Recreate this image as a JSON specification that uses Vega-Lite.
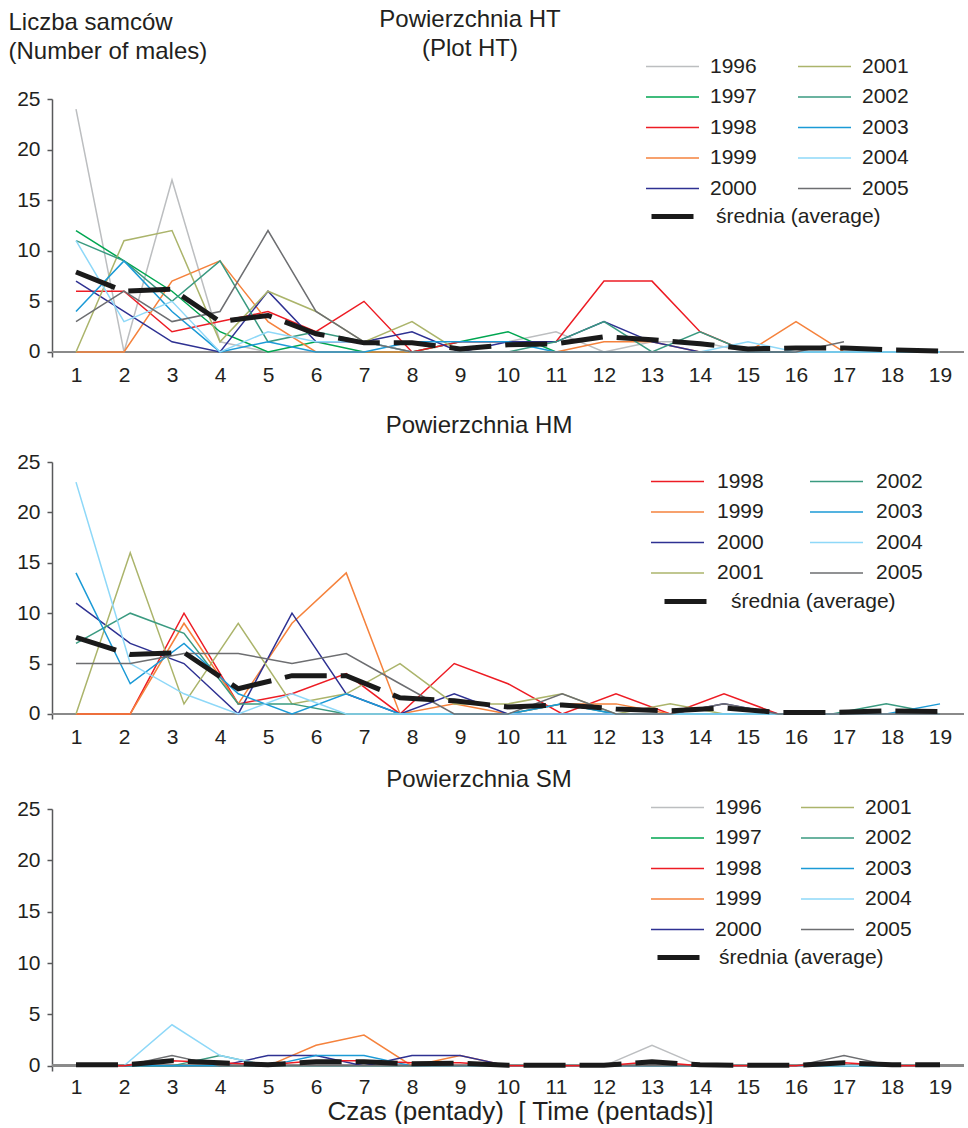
{
  "$schema": "https://vega.github.io/schema/vega-lite/v6.json",
  "padding": {"left": 8, "top": 8, "right": 0, "bottom": 0},
  "background": "white",
  "bounds": "flush",
  "spacing": 105,
  "resolve": {"scale": {"color": "independent", "strokeDash": "independent", "x": "independent", "y": "independent"}, "legend": {"color": "independent", "strokeDash": "independent"}},
  "datasets": {
    "ht": [
      {"x":1,"y":24,"s":"1996"},{"x":2,"y":0,"s":"1996"},{"x":3,"y":17,"s":"1996"},{"x":4,"y":1,"s":"1996"},{"x":5,"y":0,"s":"1996"},{"x":6,"y":0,"s":"1996"},{"x":7,"y":0,"s":"1996"},{"x":8,"y":0,"s":"1996"},{"x":9,"y":1,"s":"1996"},{"x":10,"y":1,"s":"1996"},{"x":11,"y":2,"s":"1996"},{"x":12,"y":0,"s":"1996"},{"x":13,"y":1,"s":"1996"},{"x":14,"y":1,"s":"1996"},{"x":15,"y":0,"s":"1996"},{"x":16,"y":0,"s":"1996"},{"x":17,"y":0,"s":"1996"},{"x":18,"y":0,"s":"1996"},{"x":19,"y":0,"s":"1996"},
      {"x":1,"y":12,"s":"1997"},{"x":2,"y":9,"s":"1997"},{"x":3,"y":6,"s":"1997"},{"x":4,"y":2,"s":"1997"},{"x":5,"y":0,"s":"1997"},{"x":6,"y":1,"s":"1997"},{"x":7,"y":0,"s":"1997"},{"x":8,"y":0,"s":"1997"},{"x":9,"y":1,"s":"1997"},{"x":10,"y":2,"s":"1997"},{"x":11,"y":0,"s":"1997"},{"x":12,"y":0,"s":"1997"},{"x":13,"y":0,"s":"1997"},{"x":14,"y":0,"s":"1997"},{"x":15,"y":0,"s":"1997"},{"x":16,"y":0,"s":"1997"},{"x":17,"y":0,"s":"1997"},{"x":18,"y":0,"s":"1997"},{"x":19,"y":0,"s":"1997"},
      {"x":1,"y":6,"s":"1998"},{"x":2,"y":6,"s":"1998"},{"x":3,"y":2,"s":"1998"},{"x":4,"y":3,"s":"1998"},{"x":5,"y":4,"s":"1998"},{"x":6,"y":2,"s":"1998"},{"x":7,"y":5,"s":"1998"},{"x":8,"y":0,"s":"1998"},{"x":9,"y":1,"s":"1998"},{"x":10,"y":1,"s":"1998"},{"x":11,"y":1,"s":"1998"},{"x":12,"y":7,"s":"1998"},{"x":13,"y":7,"s":"1998"},{"x":14,"y":2,"s":"1998"},{"x":15,"y":0,"s":"1998"},{"x":16,"y":0,"s":"1998"},{"x":17,"y":0,"s":"1998"},{"x":18,"y":0,"s":"1998"},{"x":19,"y":0,"s":"1998"},
      {"x":1,"y":0,"s":"1999"},{"x":2,"y":0,"s":"1999"},{"x":3,"y":7,"s":"1999"},{"x":4,"y":9,"s":"1999"},{"x":5,"y":3,"s":"1999"},{"x":6,"y":0,"s":"1999"},{"x":7,"y":0,"s":"1999"},{"x":8,"y":0,"s":"1999"},{"x":9,"y":0,"s":"1999"},{"x":10,"y":0,"s":"1999"},{"x":11,"y":0,"s":"1999"},{"x":12,"y":1,"s":"1999"},{"x":13,"y":1,"s":"1999"},{"x":14,"y":0,"s":"1999"},{"x":15,"y":0,"s":"1999"},{"x":16,"y":3,"s":"1999"},{"x":17,"y":0,"s":"1999"},
      {"x":1,"y":7,"s":"2000"},{"x":2,"y":4,"s":"2000"},{"x":3,"y":1,"s":"2000"},{"x":4,"y":0,"s":"2000"},{"x":5,"y":6,"s":"2000"},{"x":6,"y":1,"s":"2000"},{"x":7,"y":1,"s":"2000"},{"x":8,"y":2,"s":"2000"},{"x":9,"y":0,"s":"2000"},{"x":10,"y":1,"s":"2000"},{"x":11,"y":1,"s":"2000"},{"x":12,"y":3,"s":"2000"},{"x":13,"y":1,"s":"2000"},{"x":14,"y":0,"s":"2000"},{"x":15,"y":0,"s":"2000"},{"x":16,"y":0,"s":"2000"},{"x":17,"y":0,"s":"2000"},{"x":18,"y":0,"s":"2000"},{"x":19,"y":0,"s":"2000"},
      {"x":1,"y":0,"s":"2001"},{"x":2,"y":11,"s":"2001"},{"x":3,"y":12,"s":"2001"},{"x":4,"y":1,"s":"2001"},{"x":5,"y":6,"s":"2001"},{"x":6,"y":4,"s":"2001"},{"x":7,"y":1,"s":"2001"},{"x":8,"y":3,"s":"2001"},{"x":9,"y":0,"s":"2001"},{"x":10,"y":0,"s":"2001"},{"x":11,"y":0,"s":"2001"},{"x":12,"y":0,"s":"2001"},{"x":13,"y":0,"s":"2001"},{"x":14,"y":0,"s":"2001"},{"x":15,"y":0,"s":"2001"},{"x":16,"y":0,"s":"2001"},{"x":17,"y":0,"s":"2001"},{"x":18,"y":0,"s":"2001"},{"x":19,"y":0,"s":"2001"},
      {"x":1,"y":11,"s":"2002"},{"x":2,"y":9,"s":"2002"},{"x":3,"y":5,"s":"2002"},{"x":4,"y":9,"s":"2002"},{"x":5,"y":1,"s":"2002"},{"x":6,"y":2,"s":"2002"},{"x":7,"y":1,"s":"2002"},{"x":8,"y":0,"s":"2002"},{"x":9,"y":0,"s":"2002"},{"x":10,"y":0,"s":"2002"},{"x":11,"y":1,"s":"2002"},{"x":12,"y":3,"s":"2002"},{"x":13,"y":0,"s":"2002"},{"x":14,"y":2,"s":"2002"},{"x":15,"y":0,"s":"2002"},{"x":16,"y":0,"s":"2002"},{"x":17,"y":0,"s":"2002"},{"x":18,"y":0,"s":"2002"},{"x":19,"y":0,"s":"2002"},
      {"x":1,"y":4,"s":"2003"},{"x":2,"y":9,"s":"2003"},{"x":3,"y":4,"s":"2003"},{"x":4,"y":0,"s":"2003"},{"x":5,"y":1,"s":"2003"},{"x":6,"y":0,"s":"2003"},{"x":7,"y":0,"s":"2003"},{"x":8,"y":1,"s":"2003"},{"x":9,"y":1,"s":"2003"},{"x":10,"y":1,"s":"2003"},{"x":11,"y":0,"s":"2003"},{"x":12,"y":0,"s":"2003"},{"x":13,"y":0,"s":"2003"},{"x":14,"y":0,"s":"2003"},{"x":15,"y":0,"s":"2003"},{"x":16,"y":0,"s":"2003"},{"x":17,"y":0,"s":"2003"},{"x":18,"y":0,"s":"2003"},{"x":19,"y":0,"s":"2003"},
      {"x":1,"y":11,"s":"2004"},{"x":2,"y":3,"s":"2004"},{"x":3,"y":5,"s":"2004"},{"x":4,"y":0,"s":"2004"},{"x":5,"y":2,"s":"2004"},{"x":6,"y":1,"s":"2004"},{"x":7,"y":1,"s":"2004"},{"x":8,"y":0,"s":"2004"},{"x":9,"y":0,"s":"2004"},{"x":10,"y":0,"s":"2004"},{"x":11,"y":0,"s":"2004"},{"x":12,"y":0,"s":"2004"},{"x":13,"y":0,"s":"2004"},{"x":14,"y":0,"s":"2004"},{"x":15,"y":1,"s":"2004"},{"x":16,"y":0,"s":"2004"},{"x":17,"y":0,"s":"2004"},{"x":18,"y":0,"s":"2004"},{"x":19,"y":0,"s":"2004"},
      {"x":1,"y":3,"s":"2005"},{"x":2,"y":6,"s":"2005"},{"x":3,"y":3,"s":"2005"},{"x":4,"y":4,"s":"2005"},{"x":5,"y":12,"s":"2005"},{"x":6,"y":4,"s":"2005"},{"x":7,"y":1,"s":"2005"},{"x":8,"y":0,"s":"2005"},{"x":9,"y":0,"s":"2005"},{"x":10,"y":0,"s":"2005"},{"x":11,"y":0,"s":"2005"},{"x":12,"y":0,"s":"2005"},{"x":13,"y":0,"s":"2005"},{"x":14,"y":0,"s":"2005"},{"x":15,"y":0,"s":"2005"},{"x":16,"y":0,"s":"2005"},{"x":17,"y":1,"s":"2005"},
      {"x":1,"y":7.9,"s":"średnia (average)"},{"x":2,"y":6.0,"s":"średnia (average)"},{"x":3,"y":6.2,"s":"średnia (average)"},{"x":4,"y":3.0,"s":"średnia (average)"},{"x":5,"y":3.6,"s":"średnia (average)"},{"x":6,"y":1.8,"s":"średnia (average)"},{"x":7,"y":0.9,"s":"średnia (average)"},{"x":8,"y":0.9,"s":"średnia (average)"},{"x":9,"y":0.3,"s":"średnia (average)"},{"x":10,"y":0.7,"s":"średnia (average)"},{"x":11,"y":0.8,"s":"średnia (average)"},{"x":12,"y":1.5,"s":"średnia (average)"},{"x":13,"y":1.2,"s":"średnia (average)"},{"x":14,"y":0.8,"s":"średnia (average)"},{"x":15,"y":0.3,"s":"średnia (average)"},{"x":16,"y":0.4,"s":"średnia (average)"},{"x":17,"y":0.4,"s":"średnia (average)"},{"x":18,"y":0.2,"s":"średnia (average)"},{"x":19,"y":0.1,"s":"średnia (average)"}
    ],
    "hm": [
      {"x":1,"y":0,"s":"1998"},{"x":2.13,"y":0,"s":"1998"},{"x":3.25,"y":10,"s":"1998"},{"x":4.38,"y":1,"s":"1998"},{"x":5.5,"y":2,"s":"1998"},{"x":6.63,"y":4,"s":"1998"},{"x":7.75,"y":0,"s":"1998"},{"x":8.88,"y":5,"s":"1998"},{"x":10,"y":3,"s":"1998"},{"x":11.13,"y":0,"s":"1998"},{"x":12.25,"y":2,"s":"1998"},{"x":13.38,"y":0,"s":"1998"},{"x":14.5,"y":2,"s":"1998"},{"x":15.63,"y":0,"s":"1998"},{"x":16.75,"y":0,"s":"1998"},{"x":17.88,"y":0,"s":"1998"},{"x":19,"y":0,"s":"1998"},
      {"x":1,"y":0,"s":"1999"},{"x":2.13,"y":0,"s":"1999"},{"x":3.25,"y":9,"s":"1999"},{"x":4.38,"y":1,"s":"1999"},{"x":5.5,"y":9,"s":"1999"},{"x":6.63,"y":14,"s":"1999"},{"x":7.75,"y":0,"s":"1999"},{"x":8.88,"y":1,"s":"1999"},{"x":10,"y":0,"s":"1999"},{"x":11.13,"y":1,"s":"1999"},{"x":12.25,"y":1,"s":"1999"},{"x":13.38,"y":0,"s":"1999"},{"x":14.5,"y":0,"s":"1999"},{"x":15.63,"y":0,"s":"1999"},{"x":16.75,"y":0,"s":"1999"},{"x":17.88,"y":0,"s":"1999"},{"x":19,"y":0,"s":"1999"},
      {"x":1,"y":11,"s":"2000"},{"x":2.13,"y":7,"s":"2000"},{"x":3.25,"y":5,"s":"2000"},{"x":4.38,"y":0,"s":"2000"},{"x":5.5,"y":10,"s":"2000"},{"x":6.63,"y":2,"s":"2000"},{"x":7.75,"y":0,"s":"2000"},{"x":8.88,"y":2,"s":"2000"},{"x":10,"y":0,"s":"2000"},{"x":11.13,"y":0,"s":"2000"},{"x":12.25,"y":0,"s":"2000"},{"x":13.38,"y":0,"s":"2000"},{"x":14.5,"y":1,"s":"2000"},{"x":15.63,"y":0,"s":"2000"},{"x":16.75,"y":0,"s":"2000"},{"x":17.88,"y":0,"s":"2000"},{"x":19,"y":0,"s":"2000"},
      {"x":1,"y":0,"s":"2001"},{"x":2.13,"y":16,"s":"2001"},{"x":3.25,"y":1,"s":"2001"},{"x":4.38,"y":9,"s":"2001"},{"x":5.5,"y":1,"s":"2001"},{"x":6.63,"y":2,"s":"2001"},{"x":7.75,"y":5,"s":"2001"},{"x":8.88,"y":1,"s":"2001"},{"x":10,"y":1,"s":"2001"},{"x":11.13,"y":2,"s":"2001"},{"x":12.25,"y":0,"s":"2001"},{"x":13.38,"y":1,"s":"2001"},{"x":14.5,"y":0,"s":"2001"},{"x":15.63,"y":0,"s":"2001"},{"x":16.75,"y":0,"s":"2001"},{"x":17.88,"y":0,"s":"2001"},{"x":19,"y":0,"s":"2001"},
      {"x":1,"y":7,"s":"2002"},{"x":2.13,"y":10,"s":"2002"},{"x":3.25,"y":8,"s":"2002"},{"x":4.38,"y":1,"s":"2002"},{"x":5.5,"y":1,"s":"2002"},{"x":6.63,"y":0,"s":"2002"},{"x":7.75,"y":0,"s":"2002"},{"x":8.88,"y":0,"s":"2002"},{"x":10,"y":0,"s":"2002"},{"x":11.13,"y":1,"s":"2002"},{"x":12.25,"y":0,"s":"2002"},{"x":13.38,"y":0,"s":"2002"},{"x":14.5,"y":0,"s":"2002"},{"x":15.63,"y":0,"s":"2002"},{"x":16.75,"y":0,"s":"2002"},{"x":17.88,"y":1,"s":"2002"},{"x":19,"y":0,"s":"2002"},
      {"x":1,"y":14,"s":"2003"},{"x":2.13,"y":3,"s":"2003"},{"x":3.25,"y":7,"s":"2003"},{"x":4.38,"y":2,"s":"2003"},{"x":5.5,"y":0,"s":"2003"},{"x":6.63,"y":2,"s":"2003"},{"x":7.75,"y":0,"s":"2003"},{"x":8.88,"y":0,"s":"2003"},{"x":10,"y":0,"s":"2003"},{"x":11.13,"y":1,"s":"2003"},{"x":12.25,"y":0,"s":"2003"},{"x":13.38,"y":0,"s":"2003"},{"x":14.5,"y":0,"s":"2003"},{"x":15.63,"y":0,"s":"2003"},{"x":16.75,"y":0,"s":"2003"},{"x":17.88,"y":0,"s":"2003"},{"x":19,"y":1,"s":"2003"},
      {"x":1,"y":23,"s":"2004"},{"x":2.13,"y":5,"s":"2004"},{"x":3.25,"y":2,"s":"2004"},{"x":4.38,"y":0,"s":"2004"},{"x":5.5,"y":2,"s":"2004"},{"x":6.63,"y":0,"s":"2004"},{"x":7.75,"y":0,"s":"2004"},{"x":8.88,"y":0,"s":"2004"},{"x":10,"y":0,"s":"2004"},{"x":11.13,"y":0,"s":"2004"},{"x":12.25,"y":0,"s":"2004"},{"x":13.38,"y":0,"s":"2004"},{"x":14.5,"y":0,"s":"2004"},{"x":15.63,"y":0,"s":"2004"},{"x":16.75,"y":0,"s":"2004"},{"x":17.88,"y":0,"s":"2004"},{"x":19,"y":0,"s":"2004"},
      {"x":1,"y":5,"s":"2005"},{"x":2.13,"y":5,"s":"2005"},{"x":3.25,"y":6,"s":"2005"},{"x":4.38,"y":6,"s":"2005"},{"x":5.5,"y":5,"s":"2005"},{"x":6.63,"y":6,"s":"2005"},{"x":7.75,"y":3,"s":"2005"},{"x":8.88,"y":0,"s":"2005"},{"x":10,"y":0,"s":"2005"},{"x":11.13,"y":2,"s":"2005"},{"x":12.25,"y":0,"s":"2005"},{"x":13.38,"y":0,"s":"2005"},{"x":14.5,"y":1,"s":"2005"},{"x":15.63,"y":0,"s":"2005"},{"x":16.75,"y":0,"s":"2005"},{"x":17.88,"y":0,"s":"2005"},{"x":19,"y":0,"s":"2005"},
      {"x":1,"y":7.6,"s":"średnia (average)"},{"x":2.13,"y":5.9,"s":"średnia (average)"},{"x":3.25,"y":6.1,"s":"średnia (average)"},{"x":4.38,"y":2.5,"s":"średnia (average)"},{"x":5.5,"y":3.8,"s":"średnia (average)"},{"x":6.63,"y":3.8,"s":"średnia (average)"},{"x":7.75,"y":1.6,"s":"średnia (average)"},{"x":8.88,"y":1.3,"s":"średnia (average)"},{"x":10,"y":0.7,"s":"średnia (average)"},{"x":11.13,"y":0.9,"s":"średnia (average)"},{"x":12.25,"y":0.5,"s":"średnia (average)"},{"x":13.38,"y":0.3,"s":"średnia (average)"},{"x":14.5,"y":0.6,"s":"średnia (average)"},{"x":15.63,"y":0.15,"s":"średnia (average)"},{"x":16.75,"y":0.15,"s":"średnia (average)"},{"x":17.88,"y":0.3,"s":"średnia (average)"},{"x":19,"y":0.25,"s":"średnia (average)"}
    ],
    "sm": [
      {"x":1,"y":0,"s":"1996"},{"x":2,"y":0,"s":"1996"},{"x":3,"y":0,"s":"1996"},{"x":4,"y":0,"s":"1996"},{"x":5,"y":0,"s":"1996"},{"x":6,"y":0,"s":"1996"},{"x":7,"y":0,"s":"1996"},{"x":8,"y":0,"s":"1996"},{"x":9,"y":0,"s":"1996"},{"x":10,"y":0,"s":"1996"},{"x":11,"y":0,"s":"1996"},{"x":12,"y":0,"s":"1996"},{"x":13,"y":2,"s":"1996"},{"x":14,"y":0,"s":"1996"},{"x":15,"y":0,"s":"1996"},{"x":16,"y":0,"s":"1996"},{"x":17,"y":0,"s":"1996"},{"x":18,"y":0,"s":"1996"},{"x":19,"y":0,"s":"1996"},
      {"x":1,"y":0,"s":"1997"},{"x":2,"y":0,"s":"1997"},{"x":3,"y":0,"s":"1997"},{"x":4,"y":0,"s":"1997"},{"x":5,"y":0,"s":"1997"},{"x":6,"y":0,"s":"1997"},{"x":7,"y":0,"s":"1997"},{"x":8,"y":0,"s":"1997"},{"x":9,"y":0,"s":"1997"},{"x":10,"y":0,"s":"1997"},{"x":11,"y":0,"s":"1997"},{"x":12,"y":0,"s":"1997"},{"x":13,"y":0,"s":"1997"},{"x":14,"y":0,"s":"1997"},{"x":15,"y":0,"s":"1997"},{"x":16,"y":0,"s":"1997"},{"x":17,"y":0,"s":"1997"},{"x":18,"y":0,"s":"1997"},{"x":19,"y":0,"s":"1997"},
      {"x":1,"y":0,"s":"1999"},{"x":2,"y":0,"s":"1999"},{"x":3,"y":0,"s":"1999"},{"x":4,"y":0,"s":"1999"},{"x":5,"y":0,"s":"1999"},{"x":6,"y":2,"s":"1999"},{"x":7,"y":3,"s":"1999"},{"x":8,"y":0,"s":"1999"},{"x":9,"y":1,"s":"1999"},{"x":10,"y":0,"s":"1999"},{"x":11,"y":0,"s":"1999"},{"x":12,"y":0,"s":"1999"},{"x":13,"y":0,"s":"1999"},{"x":14,"y":0,"s":"1999"},{"x":15,"y":0,"s":"1999"},{"x":16,"y":0,"s":"1999"},{"x":17,"y":0,"s":"1999"},{"x":18,"y":0,"s":"1999"},{"x":19,"y":0,"s":"1999"},
      {"x":1,"y":0,"s":"2000"},{"x":2,"y":0,"s":"2000"},{"x":3,"y":0,"s":"2000"},{"x":4,"y":0,"s":"2000"},{"x":5,"y":1,"s":"2000"},{"x":6,"y":1,"s":"2000"},{"x":7,"y":0,"s":"2000"},{"x":8,"y":1,"s":"2000"},{"x":9,"y":1,"s":"2000"},{"x":10,"y":0,"s":"2000"},{"x":11,"y":0,"s":"2000"},{"x":12,"y":0,"s":"2000"},{"x":13,"y":0,"s":"2000"},{"x":14,"y":0,"s":"2000"},{"x":15,"y":0,"s":"2000"},{"x":16,"y":0,"s":"2000"},{"x":17,"y":0,"s":"2000"},{"x":18,"y":0,"s":"2000"},{"x":19,"y":0,"s":"2000"},
      {"x":1,"y":0,"s":"2001"},{"x":2,"y":0,"s":"2001"},{"x":3,"y":0,"s":"2001"},{"x":4,"y":0,"s":"2001"},{"x":5,"y":0,"s":"2001"},{"x":6,"y":0,"s":"2001"},{"x":7,"y":0,"s":"2001"},{"x":8,"y":0,"s":"2001"},{"x":9,"y":0,"s":"2001"},{"x":10,"y":0,"s":"2001"},{"x":11,"y":0,"s":"2001"},{"x":12,"y":0,"s":"2001"},{"x":13,"y":0,"s":"2001"},{"x":14,"y":0,"s":"2001"},{"x":15,"y":0,"s":"2001"},{"x":16,"y":0,"s":"2001"},{"x":17,"y":0,"s":"2001"},{"x":18,"y":0,"s":"2001"},{"x":19,"y":0,"s":"2001"},
      {"x":1,"y":0,"s":"2002"},{"x":2,"y":0,"s":"2002"},{"x":3,"y":0,"s":"2002"},{"x":4,"y":1,"s":"2002"},{"x":5,"y":0,"s":"2002"},{"x":6,"y":0,"s":"2002"},{"x":7,"y":0,"s":"2002"},{"x":8,"y":0,"s":"2002"},{"x":9,"y":0,"s":"2002"},{"x":10,"y":0,"s":"2002"},{"x":11,"y":0,"s":"2002"},{"x":12,"y":0,"s":"2002"},{"x":13,"y":0,"s":"2002"},{"x":14,"y":0,"s":"2002"},{"x":15,"y":0,"s":"2002"},{"x":16,"y":0,"s":"2002"},{"x":17,"y":0,"s":"2002"},{"x":18,"y":0,"s":"2002"},{"x":19,"y":0,"s":"2002"},
      {"x":1,"y":0,"s":"2003"},{"x":2,"y":0,"s":"2003"},{"x":3,"y":0,"s":"2003"},{"x":4,"y":0,"s":"2003"},{"x":5,"y":0,"s":"2003"},{"x":6,"y":1,"s":"2003"},{"x":7,"y":1,"s":"2003"},{"x":8,"y":0,"s":"2003"},{"x":9,"y":0,"s":"2003"},{"x":10,"y":0,"s":"2003"},{"x":11,"y":0,"s":"2003"},{"x":12,"y":0,"s":"2003"},{"x":13,"y":0,"s":"2003"},{"x":14,"y":0,"s":"2003"},{"x":15,"y":0,"s":"2003"},{"x":16,"y":0,"s":"2003"},{"x":17,"y":0,"s":"2003"},{"x":18,"y":0,"s":"2003"},{"x":19,"y":0,"s":"2003"},
      {"x":1,"y":0,"s":"2004"},{"x":2,"y":0,"s":"2004"},{"x":3,"y":4,"s":"2004"},{"x":4,"y":1,"s":"2004"},{"x":5,"y":0,"s":"2004"},{"x":6,"y":0,"s":"2004"},{"x":7,"y":0,"s":"2004"},{"x":8,"y":0,"s":"2004"},{"x":9,"y":0,"s":"2004"},{"x":10,"y":0,"s":"2004"},{"x":11,"y":0,"s":"2004"},{"x":12,"y":0,"s":"2004"},{"x":13,"y":0,"s":"2004"},{"x":14,"y":0,"s":"2004"},{"x":15,"y":0,"s":"2004"},{"x":16,"y":0,"s":"2004"},{"x":17,"y":0,"s":"2004"},{"x":18,"y":0,"s":"2004"},{"x":19,"y":0,"s":"2004"},
      {"x":1,"y":0,"s":"2005"},{"x":2,"y":0,"s":"2005"},{"x":3,"y":1,"s":"2005"},{"x":4,"y":0,"s":"2005"},{"x":5,"y":0,"s":"2005"},{"x":6,"y":0,"s":"2005"},{"x":7,"y":0,"s":"2005"},{"x":8,"y":0,"s":"2005"},{"x":9,"y":0,"s":"2005"},{"x":10,"y":0,"s":"2005"},{"x":11,"y":0,"s":"2005"},{"x":12,"y":0,"s":"2005"},{"x":13,"y":0,"s":"2005"},{"x":14,"y":0,"s":"2005"},{"x":15,"y":0,"s":"2005"},{"x":16,"y":0,"s":"2005"},{"x":17,"y":1,"s":"2005"},{"x":18,"y":0,"s":"2005"},{"x":19,"y":0,"s":"2005"},
      {"x":1,"y":0.1,"s":"średnia (average)"},{"x":2,"y":0.1,"s":"średnia (average)"},{"x":3,"y":0.5,"s":"średnia (average)"},{"x":4,"y":0.3,"s":"średnia (average)"},{"x":5,"y":0.1,"s":"średnia (average)"},{"x":6,"y":0.4,"s":"średnia (average)"},{"x":7,"y":0.4,"s":"średnia (average)"},{"x":8,"y":0.2,"s":"średnia (average)"},{"x":9,"y":0.25,"s":"średnia (average)"},{"x":10,"y":0.05,"s":"średnia (average)"},{"x":11,"y":0.05,"s":"średnia (average)"},{"x":12,"y":0.05,"s":"średnia (average)"},{"x":13,"y":0.4,"s":"średnia (average)"},{"x":14,"y":0.1,"s":"średnia (average)"},{"x":15,"y":0.05,"s":"średnia (average)"},{"x":16,"y":0.05,"s":"średnia (average)"},{"x":17,"y":0.3,"s":"średnia (average)"},{"x":18,"y":0.1,"s":"średnia (average)"},{"x":19,"y":0.1,"s":"średnia (average)"},
      {"x":1,"y":0,"s":"1998"},{"x":2,"y":0,"s":"1998"},{"x":3,"y":0.5,"s":"1998"},{"x":4,"y":0.3,"s":"1998"},{"x":5,"y":0.1,"s":"1998"},{"x":6,"y":0.5,"s":"1998"},{"x":7,"y":0.5,"s":"1998"},{"x":8,"y":0.3,"s":"1998"},{"x":9,"y":0.3,"s":"1998"},{"x":10,"y":0,"s":"1998"},{"x":11,"y":0,"s":"1998"},{"x":12,"y":0,"s":"1998"},{"x":13,"y":0.4,"s":"1998"},{"x":14,"y":0,"s":"1998"},{"x":15,"y":0,"s":"1998"},{"x":16,"y":0,"s":"1998"},{"x":17,"y":0.3,"s":"1998"},{"x":18,"y":0,"s":"1998"},{"x":19,"y":0,"s":"1998"}
    ]
  },
  "vconcat": [
    {
      "width": 912,
      "height": 258,
      "data": {"name": "ht"},
      "title": {"text": ["Powierzchnia HT", "(Plot HT)"], "dx": -38, "offset": -51},
      "layer": [
        {
          "mark": {"type": "rule", "color": "#8a8a8a", "strokeWidth": 2},
          "encoding": {
            "y": {"datum": 0, "type": "quantitative", "scale": {"domain": [-0.5, 25], "nice": false, "zero": false}, "axis": {"values": [0, 5, 10, 15, 20, 25], "title": ["Liczba samców", "(Number of males)"], "titleAngle": 0, "titleAlign": "left", "titleBaseline": "top", "titleX": -44, "titleY": -89, "titleLineHeight": 29}}
          }
        },
        {
          "transform": [{"filter": "datum.s !== 'średnia (average)'"}],
          "mark": {"type": "line", "strokeWidth": 1.5},
          "encoding": {
            "x": {"field": "x", "type": "quantitative", "scale": {"domain": [0.5, 19.5], "nice": false, "zero": false}, "axis": {"values": [1,2,3,4,5,6,7,8,9,10,11,12,13,14,15,16,17,18,19], "format": "d", "title": null}},
            "y": {"field": "y", "type": "quantitative", "scale": {"domain": [-0.5, 25], "nice": false, "zero": false}, "axis": {"values": [0, 5, 10, 15, 20, 25], "title": ["Liczba samców", "(Number of males)"], "titleAngle": 0, "titleAlign": "left", "titleBaseline": "top", "titleX": -44, "titleY": -89, "titleLineHeight": 29}},
            "color": {"field": "s", "type": "nominal",
              "scale": {"domain": ["1996","1997","1998","1999","2000","2001","2002","2003","2004","2005"], "range": ["#bcbec0","#00a651","#ed1c24","#f5823c","#2e3192","#abb46b","#3a9a80","#1b9ad6","#8ed8f8","#6d6e71"]},
              "legend": {"orient": "none", "legendX": 593, "legendY": -43, "columns": 2, "title": null, "columnPadding": 40}}
          }
        },
        {
          "transform": [{"filter": "datum.s === 'średnia (average)'"}],
          "mark": {"type": "line", "strokeWidth": 5, "color": "#1a1a1a", "strokeCap": "butt"},
          "encoding": {
            "x": {"field": "x", "type": "quantitative", "scale": {"domain": [0.5, 19.5], "nice": false, "zero": false}, "axis": {"values": [1,2,3,4,5,6,7,8,9,10,11,12,13,14,15,16,17,18,19], "format": "d", "title": null}},
            "y": {"field": "y", "type": "quantitative", "scale": {"domain": [-0.5, 25], "nice": false, "zero": false}, "axis": {"values": [0, 5, 10, 15, 20, 25], "title": ["Liczba samców", "(Number of males)"], "titleAngle": 0, "titleAlign": "left", "titleBaseline": "top", "titleX": -44, "titleY": -89, "titleLineHeight": 29}},
            "strokeDash": {"field": "s", "type": "nominal", "scale": {"domain": ["średnia (average)"], "range": [[42, 14]]},
              "legend": {"orient": "none", "legendX": 597, "legendY": 107, "title": null, "symbolStrokeColor": "#1a1a1a", "symbolStrokeWidth": 5, "symbolSize": 2916, "labelOffset": 8}}
          }
        }
      ]
    },
    {
      "bounds": "flush",
      "spacing": 90,
      "resolve": {"scale": {"color": "independent", "strokeDash": "independent", "x": "independent", "y": "independent"}, "legend": {"color": "independent", "strokeDash": "independent"}},
      "vconcat": [
        {
          "width": 912,
          "height": 257,
          "data": {"name": "hm"},
          "title": {"text": "Powierzchnia HM", "dx": -29, "offset": 13},
          "layer": [
            {
              "mark": {"type": "rule", "color": "#8a8a8a", "strokeWidth": 2},
              "encoding": {
                "y": {"datum": 0, "type": "quantitative", "scale": {"domain": [-0.5, 25], "nice": false, "zero": false}, "axis": {"values": [0, 5, 10, 15, 20, 25], "title": null}}
              }
            },
            {
              "transform": [{"filter": "datum.s !== 'średnia (average)'"}],
              "mark": {"type": "line", "strokeWidth": 1.5},
              "encoding": {
                "x": {"field": "x", "type": "quantitative", "scale": {"domain": [0.5, 19.5], "nice": false, "zero": false}, "axis": {"values": [1,2,3,4,5,6,7,8,9,10,11,12,13,14,15,16,17,18,19], "format": "d", "title": null}},
                "y": {"field": "y", "type": "quantitative", "scale": {"domain": [-0.5, 25], "nice": false, "zero": false}, "axis": {"values": [0, 5, 10, 15, 20, 25], "title": null}},
                "color": {"field": "s", "type": "nominal",
                  "scale": {"domain": ["1998","1999","2000","2001","2002","2003","2004","2005"], "range": ["#ed1c24","#f5823c","#2e3192","#abb46b","#3a9a80","#1b9ad6","#8ed8f8","#6d6e71"]},
                  "legend": {"orient": "none", "legendX": 598, "legendY": 9, "columns": 2, "title": null, "columnPadding": 45, "labelOffset": 12}}
              }
            },
            {
              "transform": [{"filter": "datum.s === 'średnia (average)'"}],
              "mark": {"type": "line", "strokeWidth": 5, "color": "#1a1a1a", "strokeCap": "butt"},
              "encoding": {
                "x": {"field": "x", "type": "quantitative", "scale": {"domain": [0.5, 19.5], "nice": false, "zero": false}, "axis": {"values": [1,2,3,4,5,6,7,8,9,10,11,12,13,14,15,16,17,18,19], "format": "d", "title": null}},
                "y": {"field": "y", "type": "quantitative", "scale": {"domain": [-0.5, 25], "nice": false, "zero": false}, "axis": {"values": [0, 5, 10, 15, 20, 25], "title": null}},
                "strokeDash": {"field": "s", "type": "nominal", "scale": {"domain": ["średnia (average)"], "range": [[42, 14]]},
                  "legend": {"orient": "none", "legendX": 610, "legendY": 129, "title": null, "symbolStrokeColor": "#1a1a1a", "symbolStrokeWidth": 5, "symbolSize": 3025, "labelOffset": 9}}
              }
            }
          ]
        },
        {
          "width": 912,
          "height": 262,
          "data": {"name": "sm"},
          "title": {"text": "Powierzchnia SM", "dx": -29, "offset": 5},
          "layer": [
            {
              "mark": {"type": "rule", "color": "#8a8a8a", "strokeWidth": 2},
              "encoding": {
                "y": {"datum": 0, "type": "quantitative", "scale": {"domain": [-0.5, 25], "nice": false, "zero": false}, "axis": {"values": [0, 5, 10, 15, 20, 25], "title": null}}
              }
            },
            {
              "transform": [{"filter": "datum.s !== 'średnia (average)'"}],
              "mark": {"type": "line", "strokeWidth": 1.5},
              "encoding": {
                "x": {"field": "x", "type": "quantitative", "scale": {"domain": [0.5, 19.5], "nice": false, "zero": false}, "axis": {"values": [1,2,3,4,5,6,7,8,9,10,11,12,13,14,15,16,17,18,19], "format": "d", "labelPadding": 5, "title": "Czas (pentady)\u00a0\u00a0[ Time (pentads)]", "titleX": 468, "titleY": 48, "titleBaseline": "alphabetic", "titleAlign": "center", "titleFontSize": 26}},
                "y": {"field": "y", "type": "quantitative", "scale": {"domain": [-0.5, 25], "nice": false, "zero": false}, "axis": {"values": [0, 5, 10, 15, 20, 25], "title": null}},
                "color": {"field": "s", "type": "nominal",
                  "scale": {"domain": ["1996","1997","1998","1999","2000","2001","2002","2003","2004","2005"], "range": ["#bcbec0","#00a651","#ed1c24","#f5823c","#2e3192","#abb46b","#3a9a80","#1b9ad6","#8ed8f8","#6d6e71"]},
                  "legend": {"orient": "none", "legendX": 598, "legendY": -12, "columns": 2, "title": null, "columnPadding": 38}}
              }
            },
            {
              "transform": [{"filter": "datum.s === 'średnia (average)'"}],
              "mark": {"type": "line", "strokeWidth": 5, "color": "#1a1a1a", "strokeCap": "butt"},
              "encoding": {
                "x": {"field": "x", "type": "quantitative", "scale": {"domain": [0.5, 19.5], "nice": false, "zero": false}, "axis": {"values": [1,2,3,4,5,6,7,8,9,10,11,12,13,14,15,16,17,18,19], "format": "d", "labelPadding": 5, "title": "Czas (pentady)\u00a0\u00a0[ Time (pentads)]", "titleX": 468, "titleY": 48, "titleBaseline": "alphabetic", "titleAlign": "center", "titleFontSize": 26}},
                "y": {"field": "y", "type": "quantitative", "scale": {"domain": [-0.5, 25], "nice": false, "zero": false}, "axis": {"values": [0, 5, 10, 15, 20, 25], "title": null}},
                "strokeDash": {"field": "s", "type": "nominal", "scale": {"domain": ["średnia (average)"], "range": [[42, 14]]},
                  "legend": {"orient": "none", "legendX": 603, "legendY": 138, "title": null, "symbolStrokeColor": "#1a1a1a", "symbolStrokeWidth": 5, "symbolSize": 3025, "labelOffset": 4}}
              }
            }
          ]
        }
      ]
    }
  ],
  "config": {
    "font": "Liberation Sans",
    "view": {"stroke": null},
    "axis": {"labelFontSize": 21, "labelColor": "#231f20", "titleFontSize": 24, "titleFontWeight": "normal", "titleColor": "#231f20", "grid": false, "labelFont": "Liberation Sans", "titleFont": "Liberation Sans"},
    "axisX": {"domain": false, "ticks": false, "labelPadding": 7, "labelFlush": false, "labelOverlap": false},
    "axisY": {"domainColor": "#58595b", "domainWidth": 1.5, "tickColor": "#58595b", "tickSize": 5, "tickWidth": 1.5, "labelPadding": 7, "labelOverlap": false, "labelFlush": false},
    "legend": {"symbolType": "stroke", "symbolSize": 2809, "symbolStrokeWidth": 1.6, "clipHeight": 21, "rowPadding": 8.5, "labelFontSize": 21, "labelColor": "#231f20", "labelOffset": 10, "padding": 0, "labelLimit": 400, "labelFont": "Liberation Sans"},
    "title": {"fontSize": 24, "fontWeight": "normal", "color": "#231f20", "lineHeight": 29, "frame": "group", "anchor": "middle", "font": "Liberation Sans"}
  }
}
